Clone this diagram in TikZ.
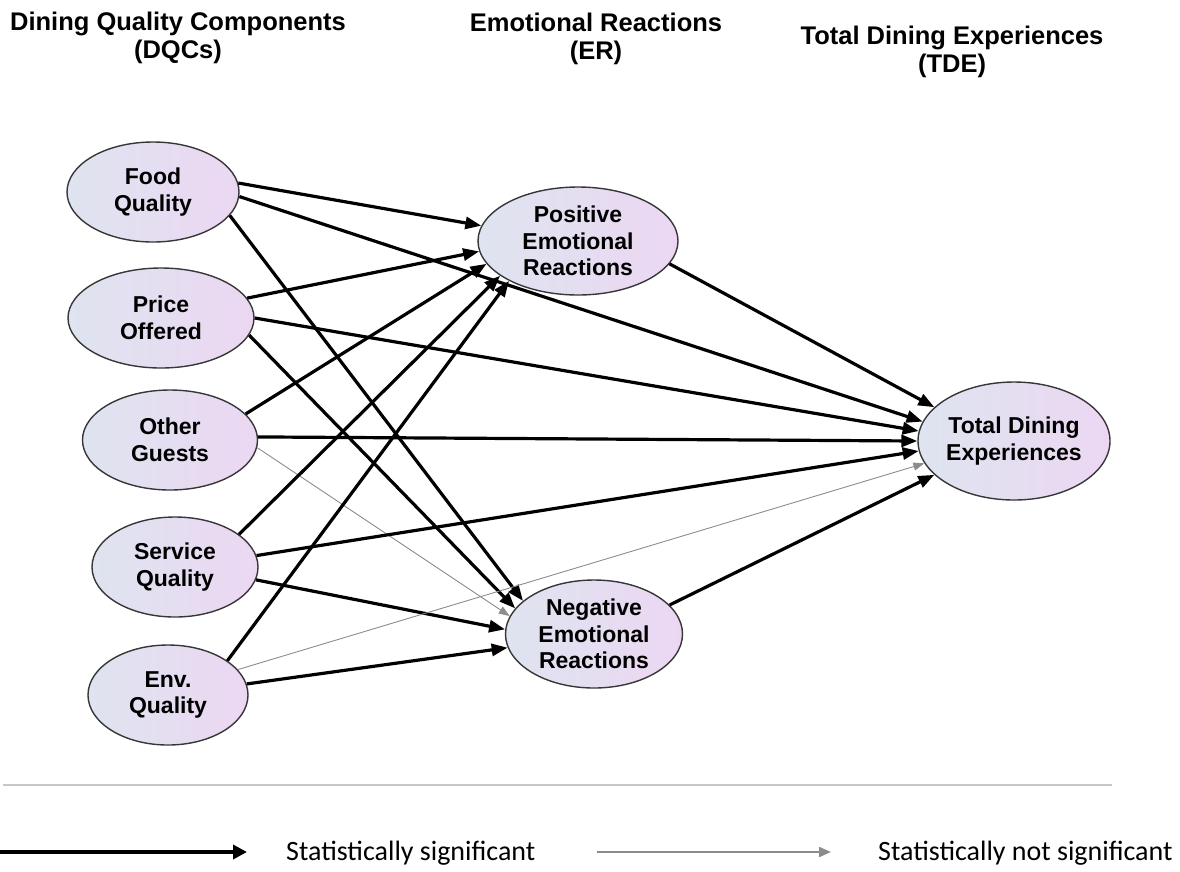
\documentclass[tikz,border=0pt]{standalone}
\usepackage{fontspec}
\setmainfont{Liberation Sans}
\newfontfamily\legendfont{Carlito}
\usetikzlibrary{arrows.meta,positioning,shapes.geometric}

\definecolor{fillL}{RGB}{222,228,240}
\definecolor{fillR}{RGB}{236,215,242}
\definecolor{rimgray}{RGB}{55,55,55}
\definecolor{rulegray}{RGB}{200,200,200}
\definecolor{nsgray}{RGB}{140,140,140}

\begin{document}
\begin{tikzpicture}[
  x=1pt, y=-1pt,
  construct/.style={ellipse, draw=rimgray, line width=1.4pt, left color=fillL, right color=fillR,
                    align=center, inner sep=0pt, font=\fontsize{23}{26.5}\selectfont\bfseries},
  dqc/.style={construct, minimum width=172pt, minimum height=100pt},
  heading/.style={align=center, inner sep=0pt, font=\fontsize{25.5}{28}\selectfont\bfseries},
  sig/.style={-{Triangle[length=16pt,width=12pt]}, line width=3.2pt},
  nonsig/.style={-{Triangle[length=11pt,width=8pt]}, line width=0.9pt, nsgray},
  legendtext/.style={anchor=west, inner sep=0pt, font=\legendfont\fontsize{28}{30}\selectfont}
]
\useasboundingbox (0,0) rectangle (1180,871);

% column headings
\node[heading] (hdqc) at (178,38) {Dining Quality Components\\(DQCs)};
\node[heading] (her) at (596,39) {Emotional Reactions\\(ER)};
\node[heading] (htde) at (952,52) {Total Dining Experiences\\(TDE)};

% dining quality components
\node[dqc] (food) at (153,192) {Food\\Quality};
\node[dqc, minimum width=186pt] (price) at (161,318) {Price\\Offered};
\node[dqc, minimum width=175pt] (guests) at (170,440) {Other\\Guests};
\node[dqc, minimum width=166pt] (service) at (175,567) {Service\\Quality};
\node[dqc, minimum width=160pt] (env) at (168,695) {Env.\\Quality};

% emotional reactions and outcome
\node[construct, minimum width=200pt, minimum height=108pt] (per) at (578,241) {Positive\\Emotional\\Reactions};
\node[construct, minimum width=177pt, minimum height=108pt] (ner) at (594,634) {Negative\\Emotional\\Reactions};
\node[construct, minimum width=192pt, minimum height=118pt] (tde) at (1014,441) {Total Dining\\Experiences};

% paths
\draw[sig] (food.6) -- (per.171);
\draw[sig] (food.-3) -- (tde.168);
\draw[sig] (food.-17) -- (ner.155);
\draw[sig] (price.13) -- (per.186);
\draw[sig] (price.0) -- (tde.174);
\draw[sig] (price.-11) -- (ner.162);
\draw[sig] (guests.19) -- (per.194);
\draw[sig] (guests.2) -- (tde.180);
\draw[nonsig] (guests.-5) -- (ner.168);
\draw[sig] (service.27) -- (per.204);
\draw[sig] (service.8) -- (tde.186);
\draw[sig] (service.-9) -- (ner.177);
\draw[sig] (env.30) -- (per.210);
\draw[nonsig] (env.20) -- (tde.194);
\draw[sig] (env.8) -- (ner.189);
\draw[sig] (per.-14) -- (tde.157);
\draw[sig] (ner.21) -- (tde.203);

% legend
\coordinate (ruleA) at (3,785);
\coordinate (ruleB) at (1112,785);
\draw[rulegray, line width=2.5pt] (ruleA) -- (ruleB);

\coordinate (sigA) at (0,852);
\coordinate (sigB) at (247,852);
\draw[-{Triangle[length=14pt,width=14pt]}, line width=4.5pt] (sigA) -- (sigB);
\node[legendtext] (sigtext) at (286,853) {Statistically significant};

\coordinate (nsA) at (597,852);
\coordinate (nsB) at (831,852);
\draw[-{Triangle[length=12pt,width=10pt]}, line width=2pt, nsgray] (nsA) -- (nsB);
\node[legendtext] (nstext) at (878,853) {Statistically not significant};
\end{tikzpicture}
\end{document}
